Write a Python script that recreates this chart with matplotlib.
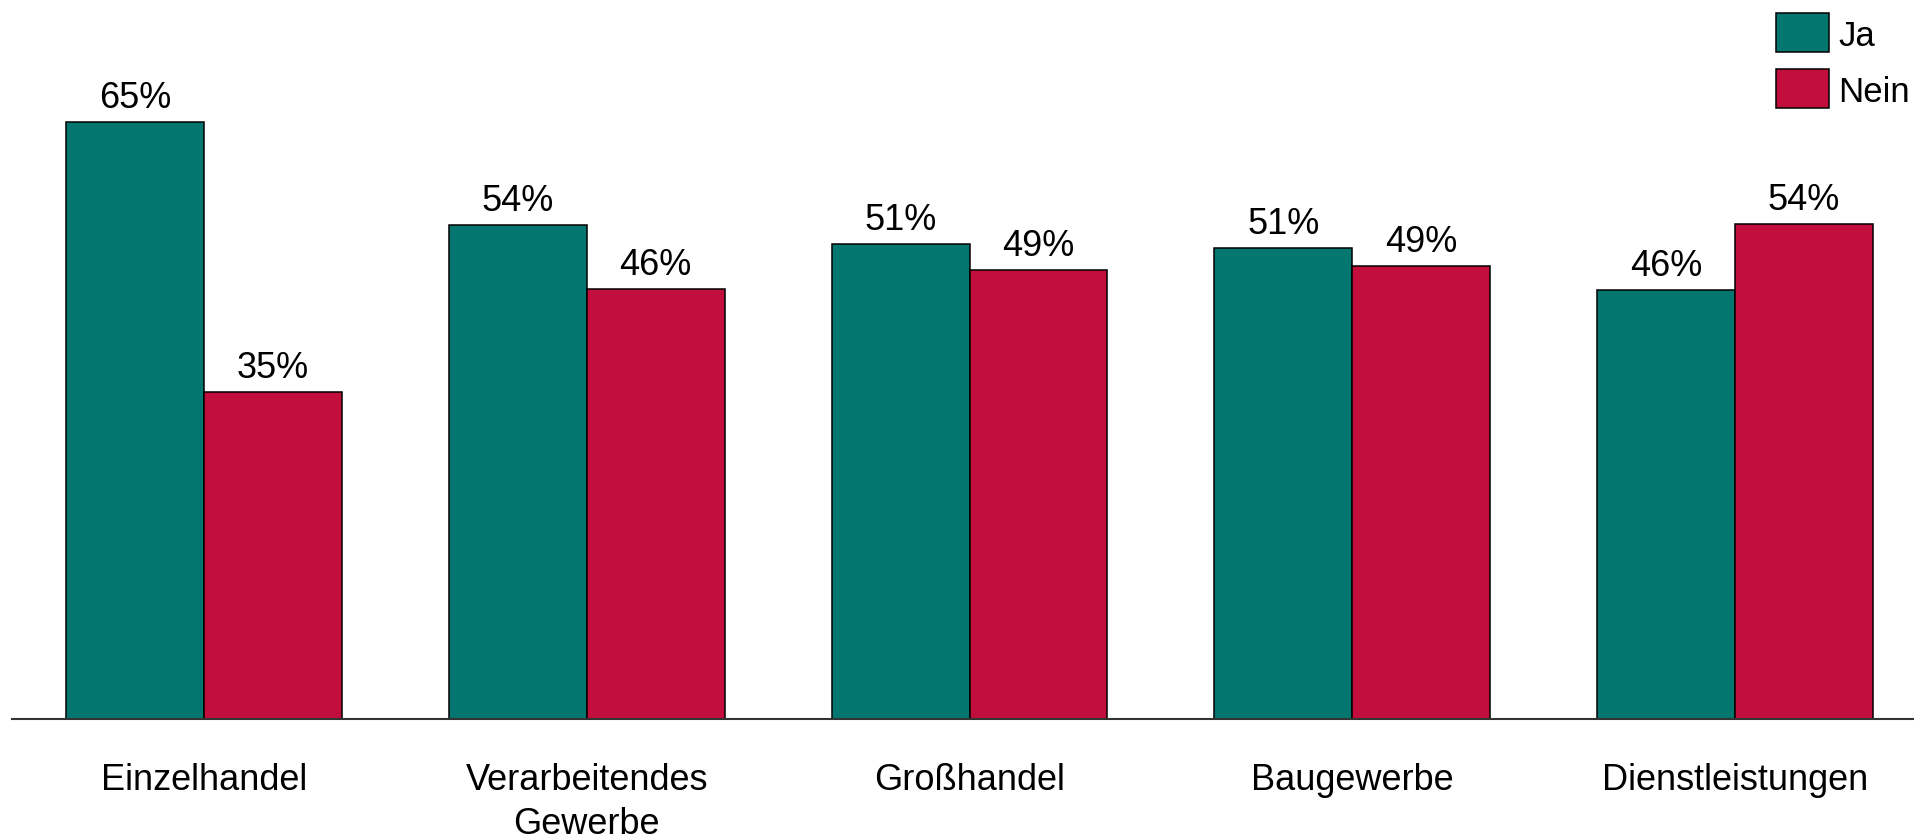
import matplotlib
matplotlib.use("Agg")
import matplotlib.pyplot as plt
import numpy as np
from matplotlib.patches import Rectangle

plt.rcParams['font.family'] = ['Liberation Sans', 'DejaVu Sans']

categories = ["Einzelhandel", "Verarbeitendes\nGewerbe", "Großhandel", "Baugewerbe", "Dienstleistungen"]
ja = [64.6, 53.5, 51.4, 51.0, 46.4]
nein = [35.4, 46.5, 48.6, 49.0, 53.6]
ja_labels = ["65%", "54%", "51%", "51%", "46%"]
nein_labels = ["35%", "46%", "49%", "49%", "54%"]
series_names = ["Ja", "Nein"]

W, H = 1914, 839
fig = plt.figure(figsize=(W / 100, H / 100), dpi=100)
ax = fig.add_axes([12 / W, (H - 719) / H, (W - 12) / W, 719 / H])

teal = "#03766F"
crimson = "#C20E3C"
colors = [teal, crimson]
x = np.arange(len(categories))
bw = 0.36
b1 = ax.bar(x - bw / 2, ja, bw, color=teal, edgecolor="black", linewidth=1.1)
b2 = ax.bar(x + bw / 2, nein, bw, color=crimson, edgecolor="black", linewidth=1.1)

fs = 26
for bars, labels in ((b1, ja_labels), (b2, nein_labels)):
    for rect, lab in zip(bars, labels):
        ax.annotate(lab, (rect.get_x() + rect.get_width() / 2, rect.get_height()),
                    xytext=(0, 10), textcoords="offset points", ha="center", va="baseline",
                    fontsize=fs, color="black")

ax.set_xlim(-0.502, 4.468)
ax.set_ylim(0, 719 / 9.24)
ax.set_xticks(x)
ax.set_xticklabels(categories, fontsize=fs, linespacing=1.3)
ax.tick_params(axis="x", length=0, pad=32)
ax.tick_params(axis="y", left=False, labelleft=False)
for s in ("top", "right", "left"):
    ax.spines[s].set_visible(False)
ax.spines["bottom"].set_color("#333333")
ax.spines["bottom"].set_linewidth(1.5)

# legend (drawn in figure pixel space)
leg_x0, leg_w, leg_h = 1776, 53, 39
leg_tops = [13, 69]
for name, col, top in zip(series_names, colors, leg_tops):
    fig.add_artist(Rectangle((leg_x0 / W, 1 - (top + leg_h) / H), leg_w / W, leg_h / H,
                             transform=fig.transFigure, facecolor=col, edgecolor="black",
                             linewidth=1.1))
    fig.text(1838 / W, 1 - (top + leg_h / 2) / H, name, fontsize=25, va="center_baseline",
             ha="left", color="black")

fig.savefig("out.png", dpi=100)
